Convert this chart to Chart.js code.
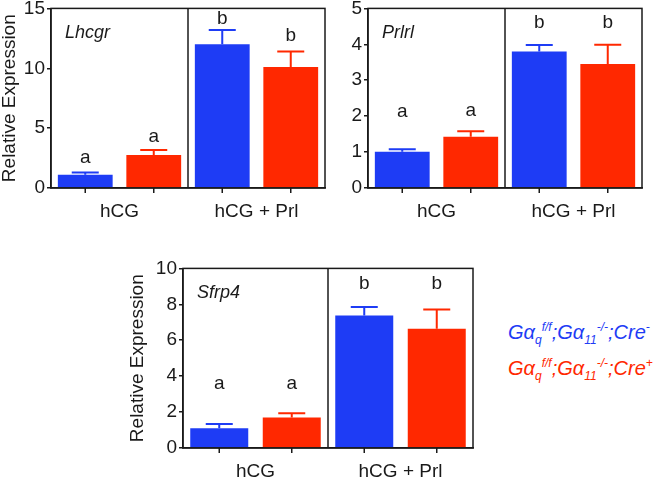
<!DOCTYPE html>
<html>
<head>
<meta charset="utf-8">
<script src="https://cdn.jsdelivr.net/npm/chart.js@4"></script>
<style>
body { margin:0; width:656px; height:479px; background:#fff; overflow:hidden; position:relative; font-family:"Liberation Sans", Arial, sans-serif; }
canvas { position:absolute; }
.leg { position:absolute; left:508px; font-style:italic; font-size:20px; white-space:nowrap; line-height:22px; }
.leg sub, .leg sup { font-size:12px; }
</style>
</head>
<body>
<canvas id="chartLhcgr" width="330" height="235" style="left:0;top:-5px"></canvas>
<canvas id="chartPrlrl" width="326" height="235" style="left:330px;top:-5px"></canvas>
<canvas id="chartSfrp4" width="350" height="235" style="left:128px;top:255px"></canvas>
<div class="leg" style="top:316px;color:rgb(30,60,245)">G&alpha;<sub>q</sub><sup>f/f</sup>;G&alpha;<sub>11</sub><sup>-/-</sup>;Cre<sup>-</sup></div>
<div class="leg" style="top:352px;color:rgb(255,40,0)">G&alpha;<sub>q</sub><sup>f/f</sup>;G&alpha;<sub>11</sub><sup>-/-</sup>;Cre<sup>+</sup></div>
<script>
var groups = ['hCG', 'hCG + Prl'];

// Lhcgr
var lhcgrMinus = [1.1, 12.0];
var lhcgrMinusErr = [0.2, 1.2];
var lhcgrPlus = [2.76, 10.1];
var lhcgrPlusErr = [0.42, 1.3];
var lhcgrLetters = [['a', 'b'], ['a', 'b']];
var lhcgrLetterAt = [[2.5, 14.1], [4.3, 12.7]];

// Prlrl
var prlrlMinus = [1.01, 3.8];
var prlrlMinusErr = [0.07, 0.18];
var prlrlPlus = [1.43, 3.45];
var prlrlPlusErr = [0.15, 0.54];
var prlrlLetters = [['a', 'b'], ['a', 'b']];
var prlrlLetterAt = [[2.12, 4.6], [2.16, 4.6]];

// Sfrp4
var sfrp4Minus = [1.1, 7.38];
var sfrp4MinusErr = [0.24, 0.47];
var sfrp4Plus = [1.7, 6.64];
var sfrp4PlusErr = [0.23, 1.07];
var sfrp4Letters = [['a', 'b'], ['a', 'b']];
var sfrp4LetterAt = [[3.58, 9.17], [3.58, 9.17]];

var blue = 'rgb(30,60,245)';
var red = 'rgb(255,40,0)';
var ink = '#1a1a1a';
var fontName = '"Liberation Sans", Arial, sans-serif';

var panelPlugin = {
    id: 'panel',
    afterDatasetsDraw: function(chart) {
        var ctx = chart.ctx;
        var a = chart.chartArea;
        var y = chart.scales.y;
        var x = chart.scales.x;
        ctx.save();
        ctx.lineWidth = 2;
        chart.data.datasets.forEach(function(ds, di) {
            var meta = chart.getDatasetMeta(di);
            meta.data.forEach(function(bar, i) {
                // error bar, upper half only
                var top = y.getPixelForValue(ds.data[i] + ds.errors[i]);
                ctx.strokeStyle = ds.backgroundColor;
                ctx.beginPath();
                ctx.moveTo(bar.x, bar.y);
                ctx.lineTo(bar.x, top);
                ctx.moveTo(bar.x - 13.5, top);
                ctx.lineTo(bar.x + 13.5, top);
                ctx.stroke();
                // tick under each bar
                ctx.strokeStyle = ink;
                ctx.lineWidth = 1.5;
                ctx.beginPath();
                ctx.moveTo(bar.x, a.bottom);
                ctx.lineTo(bar.x, a.bottom + 5);
                ctx.stroke();
                ctx.lineWidth = 2;
                // significance letter
                ctx.fillStyle = ink;
                ctx.font = '19px ' + fontName;
                ctx.textAlign = 'center';
                ctx.textBaseline = 'middle';
                ctx.fillText(ds.letters[i], bar.x, y.getPixelForValue(ds.letterAt[i]));
            });
        });
        // frame and divider
        ctx.strokeStyle = ink;
        ctx.lineWidth = 1.5;
        ctx.strokeRect(a.left, a.top, a.right - a.left, a.bottom - a.top);
        var mid = (x.getPixelForValue(0) + x.getPixelForValue(1)) / 2;
        ctx.beginPath();
        ctx.moveTo(mid, a.top);
        ctx.lineTo(mid, a.bottom);
        ctx.stroke();
        // gene name
        ctx.fillStyle = ink;
        ctx.font = 'italic 18px ' + fontName;
        ctx.textAlign = 'left';
        ctx.textBaseline = 'middle';
        ctx.fillText(chart.options.plugins.panel.gene, a.left + 14, a.top + 25);
        ctx.restore();
    }
};

function makeChart(id, gene, minus, minusErr, plus, plusErr, letters, letterAt, max, step, yWidth, padRight, showTitle) {
    return new Chart(document.getElementById(id).getContext('2d'), {
        type: 'bar',
        data: {
            labels: groups,
            datasets: [{
                label: 'Cre-',
                data: minus,
                errors: minusErr,
                letters: letters[0],
                letterAt: letterAt[0],
                backgroundColor: blue,
                barPercentage: 0.8,
                categoryPercentage: 1
            }, {
                label: 'Cre+',
                data: plus,
                errors: plusErr,
                letters: letters[1],
                letterAt: letterAt[1],
                backgroundColor: red,
                barPercentage: 0.8,
                categoryPercentage: 1
            }]
        },
        options: {
            responsive: false,
            animation: false,
            layout: { padding: { left: 0, right: padRight, top: 12, bottom: 0 } },
            plugins: {
                legend: { display: false },
                tooltip: { enabled: false },
                panel: { gene: gene }
            },
            scales: {
                x: {
                    grid: { display: false, drawTicks: false },
                    border: { color: ink, width: 1.5 },
                    ticks: { color: ink, font: { size: 19, family: fontName }, padding: 12 },
                    afterFit: function(s) { s.height = 42; }
                },
                y: {
                    min: 0,
                    max: max,
                    grid: { drawOnChartArea: false, tickLength: 4, color: ink, lineWidth: 1.5 },
                    border: { color: ink, width: 1.5 },
                    ticks: { stepSize: step, color: ink, font: { size: 19, family: fontName }, padding: 2 },
                    title: {
                        display: showTitle,
                        text: 'Relative Expression',
                        color: ink,
                        font: { size: 19, family: fontName, lineHeight: 1 },
                        padding: 0
                    },
                    afterFit: function(s) { s.width = yWidth; }
                }
            }
        },
        plugins: [panelPlugin]
    });
}

makeChart('chartLhcgr', 'Lhcgr', lhcgrMinus, lhcgrMinusErr, lhcgrPlus, lhcgrPlusErr, lhcgrLetters, lhcgrLetterAt, 15, 5, 51, 5, true);
makeChart('chartPrlrl', 'Prlrl', prlrlMinus, prlrlMinusErr, prlrlPlus, prlrlPlusErr, prlrlLetters, prlrlLetterAt, 5, 1, 38, 14, false);
makeChart('chartSfrp4', 'Sfrp4', sfrp4Minus, sfrp4MinusErr, sfrp4Plus, sfrp4PlusErr, sfrp4Letters, sfrp4LetterAt, 10, 2, 55, 5, true);
</script>
</body>
</html>
